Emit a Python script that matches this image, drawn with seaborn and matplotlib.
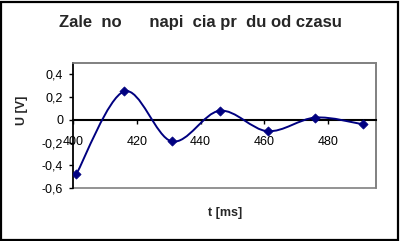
import numpy as np
import pandas as pd
import matplotlib
matplotlib.use("Agg")
import matplotlib.pyplot as plt
import seaborn as sns
from matplotlib.path import Path
from matplotlib.patches import PathPatch, Rectangle
from matplotlib.ticker import FuncFormatter

sns.set_theme(style="white")
plt.rcParams['font.family'] = ['Liberation Sans', 'DejaVu Sans']

# data
t_ms = [401, 416, 431, 446, 461, 476, 491]
u_v = [-0.48, 0.25, -0.19, 0.08, -0.10, 0.02, -0.04]
x_ticks = [400, 420, 440, 460, 480]
y_ticks = [-0.6, -0.4, -0.2, 0.0, 0.2, 0.4]
title = "Zale  no      napi  cia pr  du od czasu"
xlabel = "t [ms]"
ylabel = "U [V]"

df = pd.DataFrame({"t": t_ms, "u": u_v})
navy = "#000080"

fig = plt.figure(figsize=(4.01, 2.41), dpi=100)
fig.patch.set_facecolor("white")
ax = fig.add_axes([73/401, (241-188)/241, (376-73)/401, (188-63)/241])
ax.set_facecolor("white")

# smoothed line (Bezier path through the data points, like Excel smoothing)
xs = np.array(t_ms, dtype=float)
ys = np.array(u_v, dtype=float)
verts = [(xs[0], ys[0])]
codes = [Path.MOVETO]
n = len(xs)
for i in range(n - 1):
    p0 = np.array([xs[max(i-1, 0)], ys[max(i-1, 0)]])
    p1 = np.array([xs[i], ys[i]])
    p2 = np.array([xs[i+1], ys[i+1]])
    p3 = np.array([xs[min(i+2, n-1)], ys[min(i+2, n-1)]])
    c1 = p1 + (p2 - p0) / 6.0
    c2 = p2 - (p3 - p1) / 6.0
    verts += [tuple(c1), tuple(c2), tuple(p2)]
    codes += [Path.CURVE4, Path.CURVE4, Path.CURVE4]
ax.add_patch(PathPatch(Path(verts, codes), facecolor="none", edgecolor=navy,
                       lw=1.4, zorder=3))

sns.scatterplot(data=df, x="t", y="u", marker="D", s=22, color=navy,
                edgecolor=navy, linewidth=0.5, ax=ax, zorder=4)

ax.set_xlim(400, 495)
ax.set_ylim(-0.6, 0.5)
ax.set_xticks(x_ticks)
ax.set_yticks(y_ticks)
ax.xaxis.set_major_formatter(FuncFormatter(lambda v, p: f"{v:.0f}"))
ax.yaxis.set_major_formatter(FuncFormatter(
    lambda v, p: "0" if abs(v) < 1e-9 else f"{v:.1f}".replace(".", ",")))

ax.spines['bottom'].set_position(('data', 0))
ax.spines['bottom'].set_color("black")
ax.spines['bottom'].set_linewidth(1.5)
ax.spines['left'].set_color("black")
ax.spines['left'].set_linewidth(1.2)
for s in ['top', 'right']:
    ax.spines[s].set_color("#808080")
    ax.spines[s].set_linewidth(1.2)
ax.add_patch(Rectangle((0, 0), 1, 1, transform=ax.transAxes, fill=False,
                       edgecolor="#808080", lw=1.2, clip_on=False, zorder=0))

ax.tick_params(axis='x', direction='out', length=3, width=1, pad=9,
               labelsize=9, colors="black", bottom=True)
ax.tick_params(axis='y', direction='out', length=3, width=1, pad=4,
               labelsize=9, colors="black", left=True)
ax.set_xlabel("")
ax.set_ylabel("")

fig.text(225/401, 1 - 213/241, xlabel, ha="center", va="center",
         fontsize=9, fontweight="bold")
fig.text(22/401, 1 - 110/241, ylabel, ha="center", va="center",
         fontsize=9, fontweight="bold", rotation=90)
fig.text(200/401, 1 - 22/241, title, ha="center", va="center",
         fontsize=12, fontweight="bold")

fig.add_artist(Rectangle((1/401, 1/241), 397/401, 238/241,
                         transform=fig.transFigure, fill=False,
                         edgecolor="black", lw=1.6))

fig.savefig("out.png", dpi=100)
